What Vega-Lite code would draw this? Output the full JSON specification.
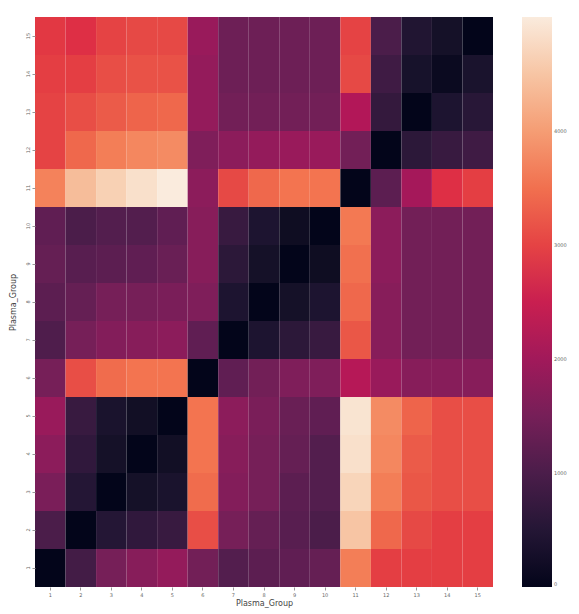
{
  "$schema": "https://vega.github.io/schema/vega-lite/v6.json",
  "width": 458,
  "height": 570,
  "autosize": "none",
  "padding": {"left": 35, "top": 17, "right": 86, "bottom": 27},
  "background": "white",
  "config": {"view": {"stroke": null}},
  "data": {"values": [
    {"y":15,"x":1,"v":2900},{"y":15,"x":2,"v":2800},{"y":15,"x":3,"v":3000},{"y":15,"x":4,"v":3050},{"y":15,"x":5,"v":3050},{"y":15,"x":6,"v":1900},{"y":15,"x":7,"v":1400},{"y":15,"x":8,"v":1400},{"y":15,"x":9,"v":1400},{"y":15,"x":10,"v":1400},{"y":15,"x":11,"v":3000},{"y":15,"x":12,"v":1000},{"y":15,"x":13,"v":450},{"y":15,"x":14,"v":250},{"y":15,"x":15,"v":0},
    {"y":14,"x":1,"v":2950},{"y":14,"x":2,"v":2950},{"y":14,"x":3,"v":3100},{"y":14,"x":4,"v":3150},{"y":14,"x":5,"v":3150},{"y":14,"x":6,"v":1850},{"y":14,"x":7,"v":1400},{"y":14,"x":8,"v":1400},{"y":14,"x":9,"v":1400},{"y":14,"x":10,"v":1400},{"y":14,"x":11,"v":3050},{"y":14,"x":12,"v":850},{"y":14,"x":13,"v":300},{"y":14,"x":14,"v":100},{"y":14,"x":15,"v":350},
    {"y":13,"x":1,"v":3000},{"y":13,"x":2,"v":3100},{"y":13,"x":3,"v":3250},{"y":13,"x":4,"v":3350},{"y":13,"x":5,"v":3400},{"y":13,"x":6,"v":1850},{"y":13,"x":7,"v":1450},{"y":13,"x":8,"v":1450},{"y":13,"x":9,"v":1450},{"y":13,"x":10,"v":1450},{"y":13,"x":11,"v":2200},{"y":13,"x":12,"v":700},{"y":13,"x":13,"v":0},{"y":13,"x":14,"v":400},{"y":13,"x":15,"v":550},
    {"y":12,"x":1,"v":3000},{"y":12,"x":2,"v":3400},{"y":12,"x":3,"v":3650},{"y":12,"x":4,"v":3750},{"y":12,"x":5,"v":3800},{"y":12,"x":6,"v":1600},{"y":12,"x":7,"v":1750},{"y":12,"x":8,"v":1850},{"y":12,"x":9,"v":1900},{"y":12,"x":10,"v":1900},{"y":12,"x":11,"v":1450},{"y":12,"x":12,"v":0},{"y":12,"x":13,"v":600},{"y":12,"x":14,"v":750},{"y":12,"x":15,"v":850},
    {"y":11,"x":1,"v":3700},{"y":11,"x":2,"v":4400},{"y":11,"x":3,"v":4650},{"y":11,"x":4,"v":4850},{"y":11,"x":5,"v":5000},{"y":11,"x":6,"v":1750},{"y":11,"x":7,"v":3050},{"y":11,"x":8,"v":3400},{"y":11,"x":9,"v":3550},{"y":11,"x":10,"v":3550},{"y":11,"x":11,"v":0},{"y":11,"x":12,"v":1200},{"y":11,"x":13,"v":2050},{"y":11,"x":14,"v":2800},{"y":11,"x":15,"v":2950},
    {"y":10,"x":1,"v":1250},{"y":10,"x":2,"v":1000},{"y":10,"x":3,"v":1100},{"y":10,"x":4,"v":1100},{"y":10,"x":5,"v":1250},{"y":10,"x":6,"v":1700},{"y":10,"x":7,"v":750},{"y":10,"x":8,"v":400},{"y":10,"x":9,"v":150},{"y":10,"x":10,"v":0},{"y":10,"x":11,"v":3600},{"y":10,"x":12,"v":1750},{"y":10,"x":13,"v":1450},{"y":10,"x":14,"v":1450},{"y":10,"x":15,"v":1450},
    {"y":9,"x":1,"v":1300},{"y":9,"x":2,"v":1150},{"y":9,"x":3,"v":1200},{"y":9,"x":4,"v":1250},{"y":9,"x":5,"v":1350},{"y":9,"x":6,"v":1700},{"y":9,"x":7,"v":600},{"y":9,"x":8,"v":250},{"y":9,"x":9,"v":0},{"y":9,"x":10,"v":150},{"y":9,"x":11,"v":3500},{"y":9,"x":12,"v":1750},{"y":9,"x":13,"v":1450},{"y":9,"x":14,"v":1450},{"y":9,"x":15,"v":1450},
    {"y":8,"x":1,"v":1200},{"y":8,"x":2,"v":1300},{"y":8,"x":3,"v":1500},{"y":8,"x":4,"v":1500},{"y":8,"x":5,"v":1550},{"y":8,"x":6,"v":1600},{"y":8,"x":7,"v":400},{"y":8,"x":8,"v":0},{"y":8,"x":9,"v":250},{"y":8,"x":10,"v":400},{"y":8,"x":11,"v":3400},{"y":8,"x":12,"v":1700},{"y":8,"x":13,"v":1450},{"y":8,"x":14,"v":1450},{"y":8,"x":15,"v":1450},
    {"y":7,"x":1,"v":1050},{"y":7,"x":2,"v":1500},{"y":7,"x":3,"v":1650},{"y":7,"x":4,"v":1700},{"y":7,"x":5,"v":1750},{"y":7,"x":6,"v":1250},{"y":7,"x":7,"v":0},{"y":7,"x":8,"v":400},{"y":7,"x":9,"v":600},{"y":7,"x":10,"v":750},{"y":7,"x":11,"v":3200},{"y":7,"x":12,"v":1700},{"y":7,"x":13,"v":1450},{"y":7,"x":14,"v":1450},{"y":7,"x":15,"v":1450},
    {"y":6,"x":1,"v":1500},{"y":6,"x":2,"v":3100},{"y":6,"x":3,"v":3450},{"y":6,"x":4,"v":3550},{"y":6,"x":5,"v":3550},{"y":6,"x":6,"v":0},{"y":6,"x":7,"v":1250},{"y":6,"x":8,"v":1450},{"y":6,"x":9,"v":1600},{"y":6,"x":10,"v":1600},{"y":6,"x":11,"v":2250},{"y":6,"x":12,"v":1900},{"y":6,"x":13,"v":1700},{"y":6,"x":14,"v":1700},{"y":6,"x":15,"v":1700},
    {"y":5,"x":1,"v":1900},{"y":5,"x":2,"v":750},{"y":5,"x":3,"v":350},{"y":5,"x":4,"v":200},{"y":5,"x":5,"v":0},{"y":5,"x":6,"v":3550},{"y":5,"x":7,"v":1750},{"y":5,"x":8,"v":1550},{"y":5,"x":9,"v":1350},{"y":5,"x":10,"v":1250},{"y":5,"x":11,"v":4900},{"y":5,"x":12,"v":3800},{"y":5,"x":13,"v":3350},{"y":5,"x":14,"v":3100},{"y":5,"x":15,"v":3100},
    {"y":4,"x":1,"v":1750},{"y":4,"x":2,"v":650},{"y":4,"x":3,"v":250},{"y":4,"x":4,"v":0},{"y":4,"x":5,"v":200},{"y":4,"x":6,"v":3550},{"y":4,"x":7,"v":1700},{"y":4,"x":8,"v":1500},{"y":4,"x":9,"v":1300},{"y":4,"x":10,"v":1100},{"y":4,"x":11,"v":4850},{"y":4,"x":12,"v":3750},{"y":4,"x":13,"v":3250},{"y":4,"x":14,"v":3100},{"y":4,"x":15,"v":3100},
    {"y":3,"x":1,"v":1550},{"y":3,"x":2,"v":500},{"y":3,"x":3,"v":0},{"y":3,"x":4,"v":250},{"y":3,"x":5,"v":350},{"y":3,"x":6,"v":3450},{"y":3,"x":7,"v":1650},{"y":3,"x":8,"v":1500},{"y":3,"x":9,"v":1200},{"y":3,"x":10,"v":1100},{"y":3,"x":11,"v":4700},{"y":3,"x":12,"v":3650},{"y":3,"x":13,"v":3200},{"y":3,"x":14,"v":3100},{"y":3,"x":15,"v":3100},
    {"y":2,"x":1,"v":1000},{"y":2,"x":2,"v":0},{"y":2,"x":3,"v":500},{"y":2,"x":4,"v":650},{"y":2,"x":5,"v":750},{"y":2,"x":6,"v":3100},{"y":2,"x":7,"v":1500},{"y":2,"x":8,"v":1300},{"y":2,"x":9,"v":1150},{"y":2,"x":10,"v":1000},{"y":2,"x":11,"v":4500},{"y":2,"x":12,"v":3400},{"y":2,"x":13,"v":3050},{"y":2,"x":14,"v":2950},{"y":2,"x":15,"v":2950},
    {"y":1,"x":1,"v":0},{"y":1,"x":2,"v":900},{"y":1,"x":3,"v":1500},{"y":1,"x":4,"v":1700},{"y":1,"x":5,"v":1850},{"y":1,"x":6,"v":1450},{"y":1,"x":7,"v":1100},{"y":1,"x":8,"v":1200},{"y":1,"x":9,"v":1250},{"y":1,"x":10,"v":1300},{"y":1,"x":11,"v":3650},{"y":1,"x":12,"v":2950},{"y":1,"x":13,"v":2950},{"y":1,"x":14,"v":2950},{"y":1,"x":15,"v":2950}
  ]},
  "mark": {"type": "rect", "strokeWidth": 0},
  "encoding": {
    "x": {
      "field": "x", "type": "ordinal", "title": "Plasma_Group",
      "scale": {"paddingInner": 0, "paddingOuter": 0},
      "axis": {"labelAngle": 0, "labelFontSize": 5, "labelColor": "#666", "domain": false, "tickColor": "#999", "tickSize": 3, "titleFontSize": 8, "titleFontWeight": "normal", "titleColor": "#444", "titleFont": "DejaVu Sans", "labelFont": "DejaVu Sans", "titlePadding": 2}
    },
    "y": {
      "field": "y", "type": "ordinal", "title": "Plasma_Group", "sort": "descending",
      "scale": {"paddingInner": 0, "paddingOuter": 0},
      "axis": {"labelAngle": -90, "labelAlign": "center", "labelBaseline": "bottom", "labelFontSize": 5, "labelColor": "#666", "domain": false, "tickColor": "#999", "tickSize": 3, "titleFontSize": 8, "titleFontWeight": "normal", "titleColor": "#444", "titleFont": "DejaVu Sans", "labelFont": "DejaVu Sans", "titlePadding": 8}
    },
    "color": {
      "field": "v", "type": "quantitative",
      "scale": {
        "domain": [0, 714, 1429, 2143, 2857, 3571, 4286, 5000],
        "range": ["#03051a", "#35193e", "#701f57", "#ad1759", "#e13342", "#f37651", "#f6b48f", "#faebdd"]
      },
      "legend": {
        "title": null, "orient": "right", "offset": 29, "direction": "vertical",
        "gradientLength": 570, "gradientThickness": 30, "gradientStrokeWidth": 0,
        "values": [0, 1000, 2000, 3000, 4000], "format": "d",
        "labelFontSize": 5, "labelColor": "#666", "labelFont": "DejaVu Sans"
      }
    }
  }
}
